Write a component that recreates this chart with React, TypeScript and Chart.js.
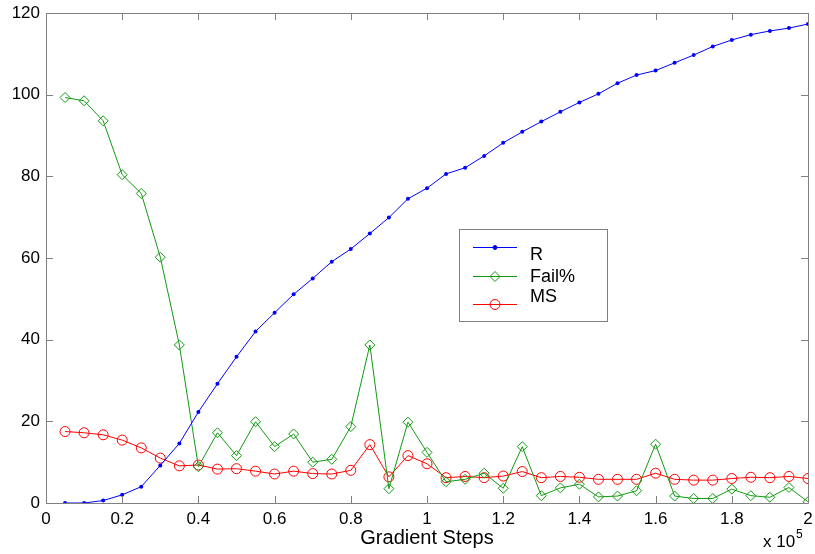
import React, { useEffect, useRef } from "react";
import { Chart, registerables } from "chart.js";

Chart.register(...registerables);

const steps = [
  0.05, 0.1, 0.15, 0.2, 0.25, 0.3, 0.35, 0.4, 0.45, 0.5,
  0.55, 0.6, 0.65, 0.7, 0.75, 0.8, 0.85, 0.9, 0.95, 1.0,
  1.05, 1.1, 1.15, 1.2, 1.25, 1.3, 1.35, 1.4, 1.45, 1.5,
  1.55, 1.6, 1.65, 1.7, 1.75, 1.8, 1.85, 1.9, 1.95, 2.0,
];

const rValues = [
  0, 0, 0.6, 2.0, 4.0, 9.2, 14.6, 22.3, 29.2, 35.8,
  42.0, 46.6, 51.1, 55.0, 59.1, 62.2, 66.0, 69.9, 74.5, 77.1,
  80.6, 82.1, 85.0, 88.2, 90.9, 93.4, 95.8, 98.1, 100.2, 102.8,
  104.8, 105.9, 107.8, 109.7, 111.8, 113.4, 114.7, 115.6, 116.3, 117.3,
];

const failValues = [
  99.3, 98.5, 93.6, 80.4, 75.8, 60.2, 38.7, 8.9, 17.2, 11.6,
  19.9, 13.8, 16.9, 10.0, 10.7, 18.7, 38.7, 3.5, 19.8, 12.4,
  5.2, 5.8, 7.3, 3.6, 13.8, 1.8, 3.7, 4.6, 1.5, 1.7,
  3.0, 14.4, 1.7, 1.1, 1.1, 3.4, 1.8, 1.4, 3.8, 0.3,
];

const msValues = [
  17.5, 17.2, 16.7, 15.4, 13.5, 11.0, 9.1, 9.3, 8.3, 8.4,
  7.8, 7.1, 7.8, 7.2, 7.1, 8.0, 14.3, 6.4, 11.6, 9.6,
  6.2, 6.5, 6.2, 6.6, 7.7, 6.2, 6.5, 6.3, 5.8, 5.8,
  5.8, 7.3, 5.8, 5.6, 5.6, 6.0, 6.3, 6.2, 6.5, 6.0,
];

const seriesNames = ["R", "Fail%", "MS"];
const xTickStep = 0.2;
const yTickStep = 20;

const FONT = "'Liberation Sans', Arial, Helvetica, sans-serif";
const FRAME = "#808080";

function drawMarker(ctx: CanvasRenderingContext2D, style: string, r: number, x: number, y: number) {
  ctx.beginPath();
  if (style === "rectRot") {
    ctx.moveTo(x - r, y);
    ctx.lineTo(x, y - r);
    ctx.lineTo(x + r, y);
    ctx.lineTo(x, y + r);
    ctx.closePath();
  } else {
    ctx.arc(x, y, r, 0, Math.PI * 2);
  }
  ctx.fill();
  ctx.stroke();
}

const framePlugin = {
  id: "matlabFrame",
  afterDraw(chart: any) {
    const { ctx, chartArea: a, scales } = chart;
    const xs = scales.x;
    const ys = scales.y;
    ctx.save();
    ctx.strokeStyle = FRAME;
    ctx.lineWidth = 1;
    ctx.beginPath();
    ctx.rect(Math.round(a.left) + 0.5, Math.round(a.top) + 0.5, Math.round(a.right - a.left), Math.round(a.bottom - a.top));
    ctx.stroke();
    const tl = 7;
    ctx.beginPath();
    xs.ticks.forEach((t: any) => {
      const px = Math.round(xs.getPixelForValue(t.value)) + 0.5;
      ctx.moveTo(px, a.bottom);
      ctx.lineTo(px, a.bottom - tl);
      ctx.moveTo(px, a.top);
      ctx.lineTo(px, a.top + tl);
    });
    ys.ticks.forEach((t: any) => {
      const py = Math.round(ys.getPixelForValue(t.value)) + 0.5;
      ctx.moveTo(a.left, py);
      ctx.lineTo(a.left + tl, py);
      ctx.moveTo(a.right, py);
      ctx.lineTo(a.right - tl, py);
    });
    ctx.stroke();

    // exponent label
    ctx.fillStyle = "#000";
    ctx.font = `17px ${FONT}`;
    ctx.textBaseline = "alphabetic";
    ctx.textAlign = "left";
    ctx.fillText("x 10", 763, 547);
    ctx.font = `12px ${FONT}`;
    ctx.fillText("5", 796, 538);

    // legend
    const bx = 459, by = 229, bw = 148, bh = 92;
    ctx.fillStyle = "#fff";
    ctx.fillRect(bx, by, bw, bh);
    ctx.strokeStyle = FRAME;
    ctx.strokeRect(bx + 0.5, by + 0.5, bw, bh);
    const lineYs = [247, 276, 304];
    const textYs = [255, 277, 297];
    chart.data.datasets.forEach((ds: any, i: number) => {
      const ly = lineYs[i] + 0.5;
      ctx.strokeStyle = ds.borderColor;
      ctx.lineWidth = 1;
      ctx.beginPath();
      ctx.moveTo(473, ly);
      ctx.lineTo(517, ly);
      ctx.stroke();
      ctx.fillStyle = ds.pointBackgroundColor;
      ctx.strokeStyle = ds.pointBorderColor;
      drawMarker(ctx, ds.pointStyle, ds.pointRadius, 495, ly);
      ctx.fillStyle = "#000";
      ctx.font = `18px ${FONT}`;
      ctx.textBaseline = "middle";
      ctx.textAlign = "left";
      ctx.fillText(ds.label, 530, textYs[i]);
    });
    ctx.restore();
  },
};

export default function App() {
  const ref = useRef<HTMLCanvasElement | null>(null);
  useEffect(() => {
    if (!ref.current) return;
    const mk = (vals: number[]) => steps.map((x, i) => ({ x, y: vals[i] }));
    const chart = new Chart(ref.current, {
      type: "line",
      data: {
        datasets: [
          {
            label: seriesNames[0],
            data: mk(rValues),
            borderColor: "#0000ff",
            borderWidth: 1,
            pointStyle: "circle",
            pointRadius: 2,
            pointBackgroundColor: "#0000ff",
            pointBorderColor: "#0000ff",
            pointBorderWidth: 0,
            tension: 0,
          },
          {
            label: seriesNames[1],
            data: mk(failValues),
            borderColor: "#119a11",
            borderWidth: 1,
            pointStyle: "rectRot",
            pointRadius: 5,
            pointBackgroundColor: "rgba(0,0,0,0)",
            pointBorderColor: "#119a11",
            pointBorderWidth: 1,
            tension: 0,
          },
          {
            label: seriesNames[2],
            data: mk(msValues),
            borderColor: "#ff0000",
            borderWidth: 1,
            pointStyle: "circle",
            pointRadius: 5,
            pointBackgroundColor: "rgba(0,0,0,0)",
            pointBorderColor: "#ff0000",
            pointBorderWidth: 1,
            tension: 0,
          },
        ],
      },
      options: {
        animation: false,
        responsive: false,
        maintainAspectRatio: false,
        layout: { padding: { left: 0, right: 7, top: 13, bottom: 0 } },
        plugins: {
          legend: { display: false },
          tooltip: { enabled: false },
        },
        scales: {
          x: {
            type: "linear",
            min: 0,
            max: 2,
            border: { display: false },
            grid: { display: false, drawTicks: false },
            ticks: {
              stepSize: xTickStep,
              color: "#000",
              font: { family: FONT, size: 17 },
              padding: 6,
              maxRotation: 0,
              autoSkip: false,
              callback: (v: any) => String(parseFloat(Number(v).toFixed(1))),
            },
            title: {
              display: true,
              text: "Gradient Steps",
              color: "#000",
              font: { family: FONT, size: 20 },
              padding: { top: 0, bottom: 4 },
            },
            afterFit: (s: any) => {
              s.height = 51;
              s.paddingLeft = 0;
              s.paddingRight = 0;
            },
          },
          y: {
            type: "linear",
            min: 0,
            max: 120,
            border: { display: false },
            grid: { display: false, drawTicks: false },
            ticks: {
              stepSize: yTickStep,
              color: "#000",
              font: { family: FONT, size: 17 },
              padding: 6,
            },
            afterFit: (s: any) => {
              s.width = 46;
              s.paddingTop = 0;
              s.paddingBottom = 0;
            },
          },
        },
      },
      plugins: [framePlugin],
    });
    return () => chart.destroy();
  }, []);
  return (
    <div style={{ position: "absolute", left: 0, top: 0, width: 815, height: 554, background: "#fff" }}>
      <canvas ref={ref} width={815} height={554} style={{ width: 815, height: 554 }} />
    </div>
  );
}
